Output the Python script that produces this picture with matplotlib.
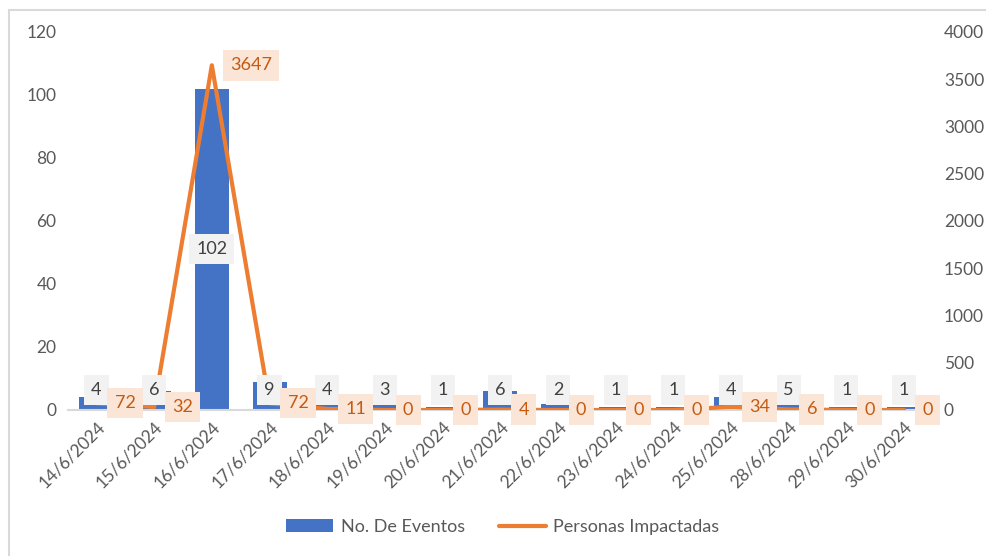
import matplotlib.pyplot as plt
from matplotlib.patches import Rectangle
import numpy as np

fechas = ["14/6/2024", "15/6/2024", "16/6/2024", "17/6/2024", "18/6/2024",
          "19/6/2024", "20/6/2024", "21/6/2024", "22/6/2024", "23/6/2024",
          "24/6/2024", "25/6/2024", "28/6/2024", "29/6/2024", "30/6/2024"]
eventos = [4, 6, 102, 9, 4, 3, 1, 6, 2, 1, 1, 4, 5, 1, 1]
personas = [72, 32, 3647, 72, 11, 0, 0, 4, 0, 0, 0, 34, 6, 0, 0]

azul = "#4472C4"
naranja = "#ED7D31"
gris = "#595959"

plt.rcParams['font.family'] = ['Lato', 'DejaVu Sans']

fig = plt.figure(figsize=(9.86, 5.56), dpi=100)
ax = fig.add_axes([0.0686, 0.2626, 0.8775, 0.680])
ax2 = ax.twinx()

x = np.arange(len(fechas))
ax.bar(x, eventos, width=0.59, color=azul, zorder=2, label="No. De Eventos")
ax2.plot(x, personas, color=naranja, lw=3, solid_capstyle='round', zorder=3,
         label="Personas Impactadas")

ax.set_xlim(-0.5, len(fechas) - 0.5)
ax.set_ylim(0, 120)
ax.set_yticks(range(0, 121, 20))
ax2.set_ylim(0, 4000)
ax2.set_yticks(range(0, 4001, 500))

for a in (ax, ax2):
    for s in a.spines.values():
        s.set_visible(False)
    a.tick_params(length=0, labelsize=12.5, labelcolor=gris, pad=8)
ax.spines['bottom'].set_visible(True)
ax.spines['bottom'].set_color("#D9D9D9")
ax.spines['bottom'].set_linewidth(1.5)

ax.set_xticks(x)
ax.set_xticklabels(fechas, rotation=45, ha='right', rotation_mode='anchor')
ax.tick_params(axis='x', pad=6)

# etiquetas de las barras
for i, v in enumerate(eventos):
    yv = v / 2 if v > 50 else 6.3
    ax2.annotate(str(v), (x[i], yv), xycoords=ax.transData,
                 ha='center', va='center', fontsize=13, color="#404040", zorder=5,
                 bbox=dict(boxstyle='square,pad=0.38', fc="#F2F2F2", ec='none'))

# etiquetas de la linea
for i, v in enumerate(personas):
    ax2.annotate(str(v), (x[i], v), xytext=(13, 0), textcoords='offset points',
                 ha='left', va='center', fontsize=13, color="#C55A11", zorder=6,
                 bbox=dict(boxstyle='square,pad=0.4', fc="#FBE5D6", ec='none'))

h1, l1 = ax.get_legend_handles_labels()
h2, l2 = ax2.get_legend_handles_labels()
fig.legend(h1 + h2, l1 + l2, loc='center', bbox_to_anchor=(0.51, 0.052), ncol=2,
           frameon=False, fontsize=13, labelcolor=gris, handlelength=2.6,
           columnspacing=1.9, handletextpad=0.4)

fig.patches.append(Rectangle((0.009, -0.02), 1.02, 1.002,
                             transform=fig.transFigure, fill=False,
                             ec="#D9D9D9", lw=1.5))

plt.savefig("out.png", dpi=100)
